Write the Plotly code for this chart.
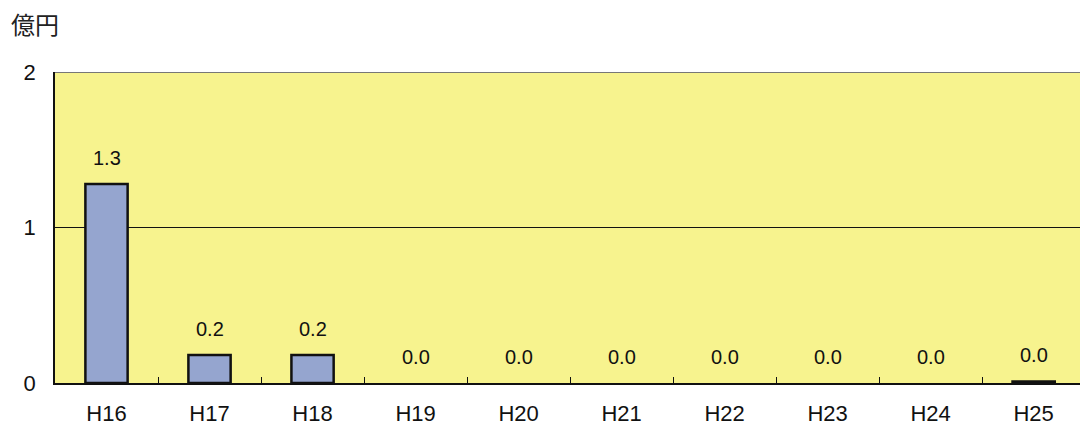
import plotly.graph_objects as go

categories = ["H16", "H17", "H18", "H19", "H20", "H21", "H22", "H23", "H24", "H25"]
values = [1.28, 0.18, 0.18, 0.0, 0.0, 0.0, 0.0, 0.0, 0.0, 0.01]
y_ticks = [0, 1, 2]
unit_label = "億円"

FONT = "Liberation Sans, Arial, Noto Sans CJK JP"

outline_widths = [2.5 if v > 0 else 0 for v in values]

fig = go.Figure()
fig.add_trace(go.Bar(
    x=categories, y=values, width=0.41,
    marker=dict(color="#95a5cf", line=dict(color="#111111", width=outline_widths)),
    hoverinfo="x+y",
))

for c, v in zip(categories, values):
    fig.add_annotation(x=c, y=v, text=f"{v:.1f}", showarrow=False,
                       yanchor="bottom", yshift=13,
                       font=dict(size=20, color="#111111", family=FONT))

fig.add_annotation(xref="paper", yref="paper", x=0, y=1, xshift=-46, yshift=49,
                   xanchor="left", yanchor="middle", text=unit_label, showarrow=False,
                   font=dict(size=24, color="#222222", family="Noto Sans CJK JP"))

fig.update_layout(
    width=1080, height=430,
    margin=dict(l=55, r=0, t=72, b=47),
    paper_bgcolor="white", plot_bgcolor="#f7f38e",
    showlegend=False, bargap=0.59,
    font=dict(family=FONT, size=22, color="#111111"),
    xaxis=dict(type="category", range=[-0.5, 9.45], tickson="boundaries",
               ticks="inside", ticklen=6, tickcolor="#111111", tickwidth=1,
               showline=True, linecolor="#111111", linewidth=1.5,
               showgrid=False, tickfont=dict(size=22), ticklabelstandoff=10,
               fixedrange=True),
    yaxis=dict(range=[0, 2], tickvals=y_ticks, ticktext=[str(t) for t in y_ticks],
               showline=True, linecolor="#111111", linewidth=1.5,
               showgrid=True, gridcolor="#111111", gridwidth=1,
               zeroline=False, ticks="", ticklabelstandoff=13,
               tickfont=dict(size=22), fixedrange=True),
)
fig.add_shape(type="line", xref="paper", yref="y", x0=0, x1=1, y0=2, y1=2,
              line=dict(color="#777777", width=2))

fig.write_html("out.html")
